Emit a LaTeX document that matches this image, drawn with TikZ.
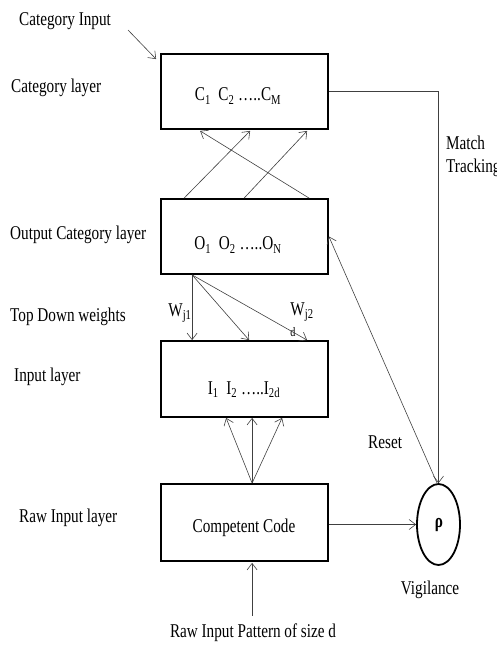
\documentclass[tikz,border=0pt]{standalone}
\usepackage{fontspec}
\setmainfont{Liberation Serif}[FakeStretch=0.78]
\usetikzlibrary{arrows.meta,calc,shapes.geometric}

\begin{document}
\begin{tikzpicture}[x=1pt,y=-1pt,
  txt/.style={inner sep=0pt,font=\fontsize{19.5}{22}\selectfont},
  layerbox/.style={draw,line width=1.8pt,minimum width=167pt,minimum height=75pt,inner sep=0pt},
  link/.style={draw=black!75,line width=0.6pt,-{Straight Barb[length=6.5pt,width=10pt]}}]
\useasboundingbox (0,0) rectangle (497,645);

% the four layers
\node[layerbox] (c) at (244.5,91.5) {};
\node[layerbox] (o) at (244.5,236.5) {};
\node[layerbox,minimum height=76pt] (i) at (244.5,379) {};
\node[layerbox,minimum height=77pt] (r) at (244.5,522.5) {};
\node[draw,ellipse,line width=1.8pt,minimum width=43pt,minimum height=81pt,inner sep=0pt] (rho) at (438.5,524.5) {};

% texts inside the shapes
\node[txt] (ctext) at (238,96) {C\textsubscript{1}\ \ C\textsubscript{2} …..C\textsubscript{M}};
\node[txt] (otext) at (238,245) {O\textsubscript{1}\ \ O\textsubscript{2} …..O\textsubscript{N}};
\node[txt] (itext) at (244,390) {I\textsubscript{1}\ \ I\textsubscript{2} …..I\textsubscript{2d}};
\node[txt] (rtext) at (244,528) {Competent Code};
\node[txt] (rhotext) at (439,525) {\textbf{ρ}};

% layer names
\node[txt,anchor=west] (lcatin) at (19,21) {Category Input};
\node[txt,anchor=west] (lcat) at (11,88) {Category layer};
\node[txt,anchor=west] (lout) at (10,235) {Output Category layer};
\node[txt,anchor=west] (ltop) at (10,317) {Top Down weights};
\node[txt,anchor=west] (lin) at (14,377) {Input layer};
\node[txt,anchor=west] (lraw) at (19,518) {Raw Input layer};
\node[txt,anchor=west] (lmatch) at (446,143) {Match};
\node[txt,anchor=west] (ltrack) at (446,168) {Tracking};
\node[txt,anchor=west] (lreset) at (368,442) {Reset};
\node[txt] (lvig) at (430,590) {Vigilance};
\node[txt] (lpat) at (253,633) {Raw Input Pattern of size d};

% weight labels
\node[txt] (w1) at (180,313) {W\textsubscript{j1}};
\node[txt] (w2) at (302,312) {W\textsubscript{j2}};
\node[txt,font=\fontsize{13}{15}\selectfont] (w2d) at (293,332) {d};

% free ends
\coordinate (catin) at (128,30);
\coordinate (patin) at ($(r.south west)+(92,54)$);

% category input
\draw[link] (catin) -- ($(c.north west)+(-4,6)$);

% output layer up to category layer
\draw[link] ($(o.north west)+(24,0)$) -- ($(c.south west)+(90,1)$);
\draw[link] ($(o.north west)+(84,0)$) -- ($(c.south west)+(147,1)$);
\draw[link] ($(o.north west)+(149,0)$) -- ($(c.south west)+(40,1)$);

% top down weights
\draw[link] ($(o.south west)+(32,0)$) -- ($(i.north west)+(32,0)$);
\draw[link] ($(o.south west)+(32,0)$) -- ($(i.north west)+(89,0)$);
\draw[link] ($(o.south west)+(32,0)$) -- ($(i.north west)+(147,0)$);

% raw input layer up to input layer
\draw[link] ($(r.north west)+(92,0)$) -- ($(i.south west)+(66,0)$);
\draw[link] ($(r.north west)+(92,0)$) -- ($(i.south west)+(92,0)$);
\draw[link] ($(r.north west)+(92,0)$) -- ($(i.south west)+(122,0)$);

% raw pattern in
\draw[link] (patin) -- ($(r.south west)+(92,1)$);

% competent code to vigilance
\draw[link] (rho.west -| r.east) -- (rho.west);

% match tracking
\draw[link] (c.east) -- (c.east -| rho.north) -- (rho.north);

% reset
\draw[link] ($(rho.north)+(-1,1)$) -- (o.east);
\end{tikzpicture}
\end{document}
